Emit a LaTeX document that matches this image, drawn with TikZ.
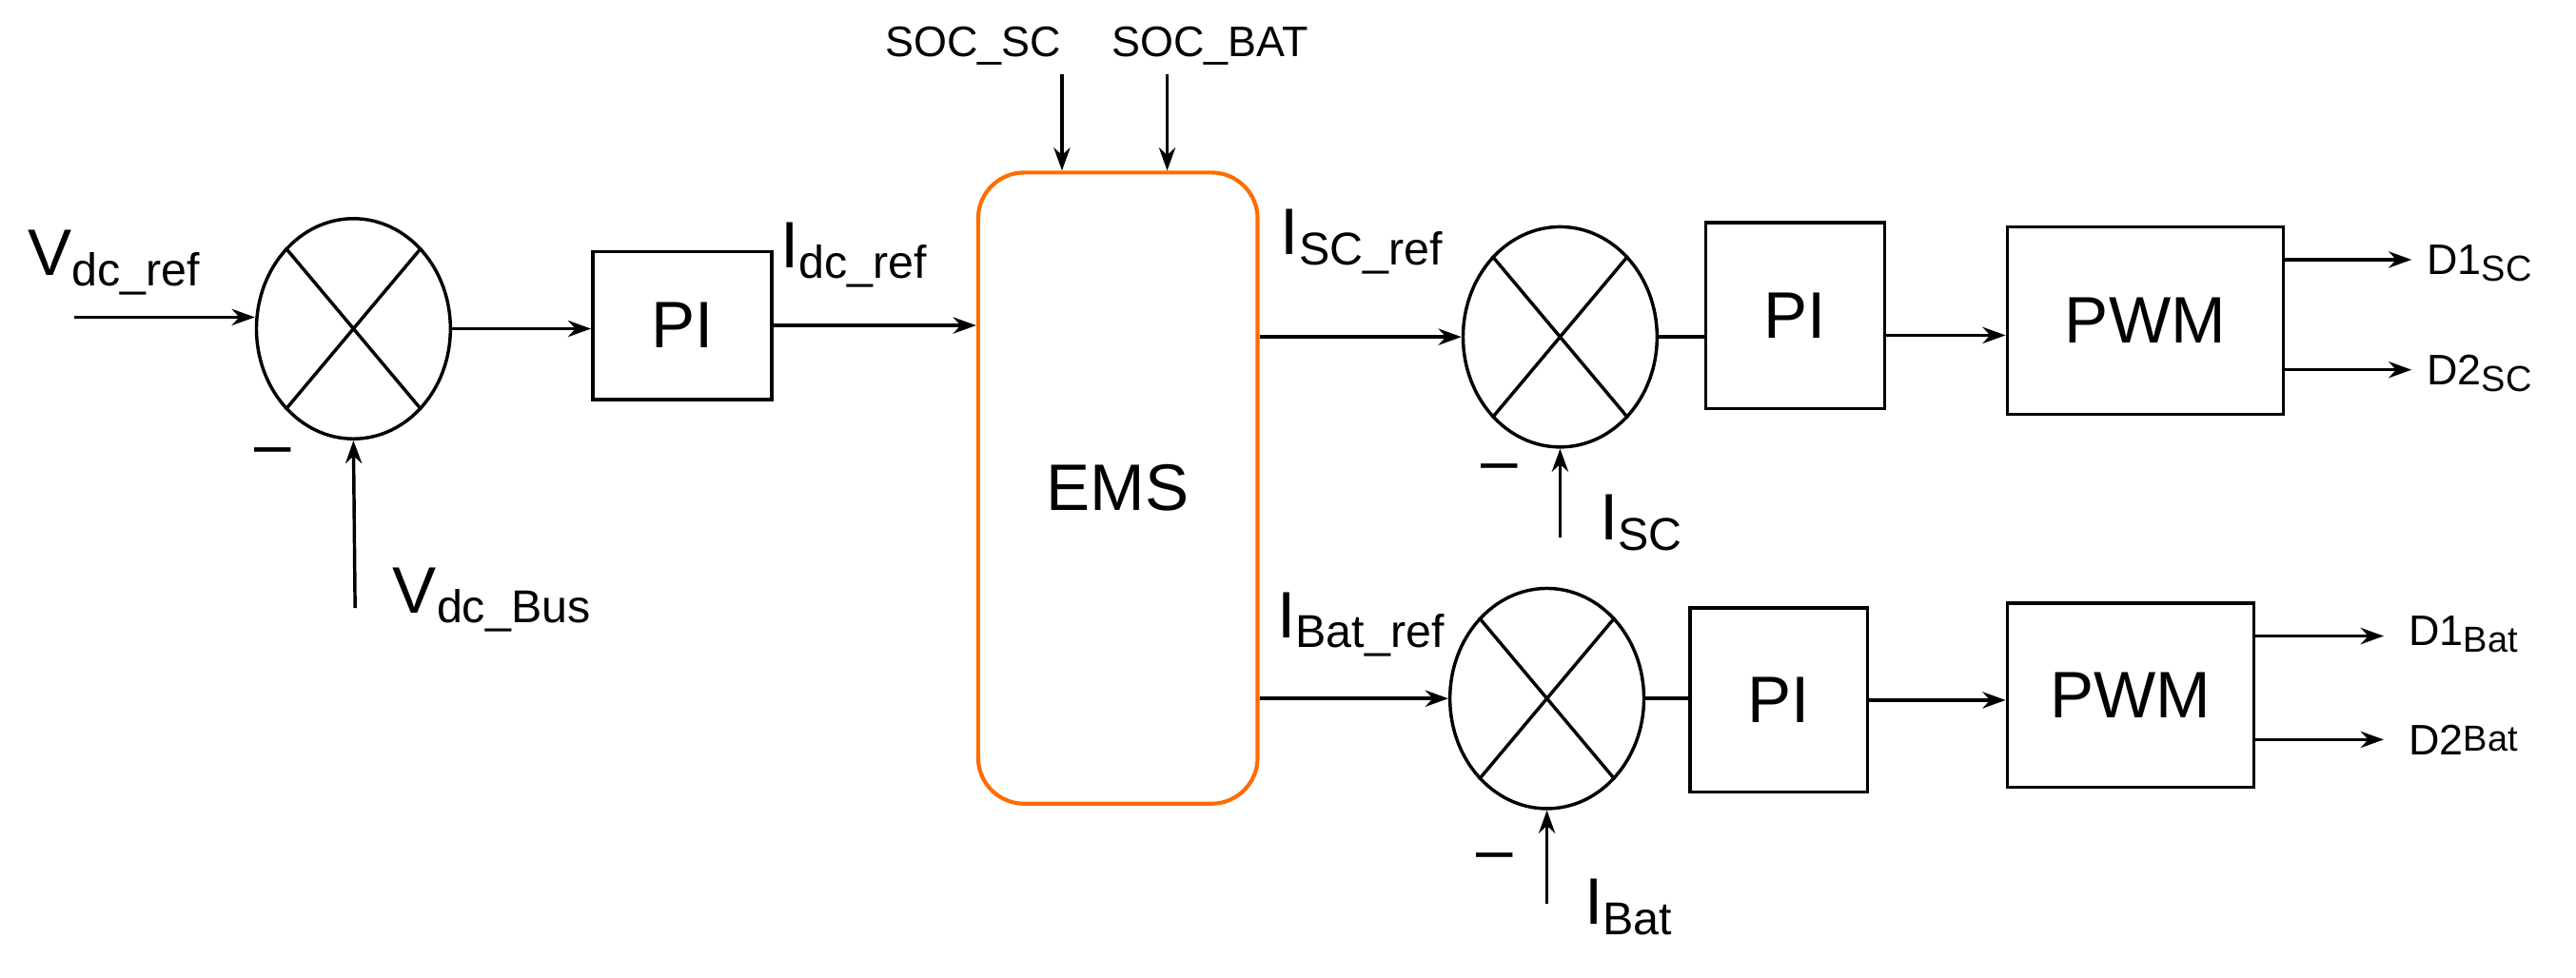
\documentclass[tikz,border=0pt]{standalone}
\usepackage{fontspec}
\setmainfont{Liberation Sans}
\usetikzlibrary{shapes.geometric,arrows.meta}
\begin{document}
\begin{tikzpicture}[x=0.5pt,y=-0.5pt,
  blk/.style={draw,line width=1pt,inner sep=0},
  sum/.style={draw,ellipse,line width=1pt,minimum width=59pt,minimum height=67pt,inner sep=0},
  arr/.style={-{Stealth[length=7pt,width=5pt]},line width=1pt},
  big/.style={font=\fontsize{20}{24}\selectfont},
  sm/.style={font=\fontsize{13}{16}\selectfont},
  sub/.style={font=\fontsize{12}{14}\selectfont}]
\useasboundingbox (0,0) rectangle (1567,595);
% row 1
\coordinate (vin) at (45,193);
\node[sum] (s1) at (215,200) {};
\node[blk,minimum width=54.5pt,minimum height=45pt] (pi1) at (415,198) {};
\node[big] at (415,198) {PI};
\node[draw=orange!85!red,line width=1.2pt,rounded corners=14pt,minimum width=85pt,minimum height=192pt] (ems) at (680,297) {};
\node[big] at (680,297) {EMS};
\node[big,anchor=west] (vref) at (10,160) {V\textsubscript{dc\_ref}};
\draw[arr] (vin) -- (s1.west |- vin);
\coordinate (vbus) at (216,370);
\draw[arr] (vbus) -- (s1.south);
\node[big] at (166,278) {--};
\node[big,anchor=west] at (232,365) {V\textsubscript{dc\_Bus}};
\draw[arr] (s1.east) -- (pi1.west |- s1.east);
\draw[arr] (pi1.east) -- (ems.west |- pi1.east);
\node[big,anchor=west] at (468,155) {I\textsubscript{dc\_ref}};
\node[sm] (socsc) at (592,28) {SOC\_SC};
\node[sm] (socbat) at (736,28) {SOC\_BAT};
\coordinate (a1) at (646,45); \coordinate (a2) at (710,45);
\draw[arr] (a1) -- (a1 |- ems.north);
\draw[arr] (a2) -- (a2 |- ems.north);
% SC row
\node[sum] (s2) at (949,205) {};
\draw[arr] (ems.east |- s2.west) -- (s2.west);
\node[big,anchor=west] at (772,147) {I\textsubscript{SC\_ref}};
\coordinate (isc) at (949,327);
\draw[arr] (isc) -- (s2.south);
\node[big] at (912,288) {--};
\node[big,anchor=west] at (966,318) {I\textsubscript{SC}};
\node[blk,minimum width=54.5pt,minimum height=56.5pt] (pi2) at (1092,192) {};
\node[big] at (1092,192) {PI};
\draw[line width=1pt] (s2.east) -- (pi2.west |- s2.east);
\node[blk,minimum width=84pt,minimum height=57pt] (pwm1) at (1305,195) {};
\node[big] at (1305,195) {PWM};
\draw[arr] (pi2.east |- 0,204) -- (pwm1.west |- 0,204);
\coordinate (d1) at (1467,158); \coordinate (d2) at (1467,225);
\draw[arr] (pwm1.east |- d1) -- (d1);
\draw[arr] (pwm1.east |- d2) -- (d2);
\node[sm,anchor=west,inner sep=0] at (1476,160) {D1\raisebox{-2pt}{\fontsize{11}{13}\selectfont SC}};
\node[sm,anchor=west,inner sep=0] at (1476,227) {D2\raisebox{-2pt}{\fontsize{11}{13}\selectfont SC}};
% Bat row
\node[sum] (s3) at (941,425) {};
\draw[arr] (ems.east |- s3.west) -- (s3.west);
\node[big,anchor=west] at (770,380) {I\textsubscript{Bat\_ref}};
\coordinate (ibat) at (941,550);
\draw[arr] (ibat) -- (s3.south);
\node[big] at (909,525) {--};
\node[big,anchor=west] at (957,552) {I\textsubscript{Bat}};
\node[blk,minimum width=54pt,minimum height=56pt] (pi3) at (1082,426) {};
\node[big] at (1082,426) {PI};
\draw[line width=1pt] (s3.east) -- (pi3.west |- s3.east);
\node[blk,minimum width=75pt,minimum height=56pt] (pwm2) at (1296,423) {};
\node[big] at (1296,423) {PWM};
\draw[arr] (pi3.east) -- (pwm2.west |- pi3.east);
\coordinate (d3) at (1450,387); \coordinate (d4) at (1450,450);
\draw[arr] (pwm2.east |- d3) -- (d3);
\draw[arr] (pwm2.east |- d4) -- (d4);
\node[sm,anchor=west,inner sep=0] at (1465,386) {D1\raisebox{-2pt}{\fontsize{11}{13}\selectfont Bat}};
\node[sm,anchor=west,inner sep=0] at (1465,450) {D2\raisebox{1pt}{\fontsize{11}{13}\selectfont Bat}};
% crosses
\foreach \s in {s1,s2,s3}{
 \draw[line width=1pt] (\s.50) -- (\s.230) (\s.130) -- (\s.310);}
\end{tikzpicture}
\end{document}
